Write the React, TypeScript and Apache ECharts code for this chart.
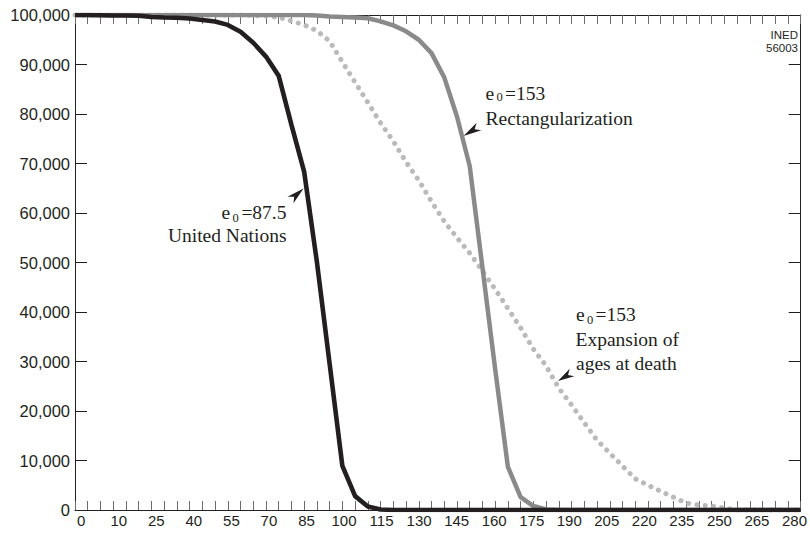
import React, { useEffect, useRef } from "react";
import * as echarts from "echarts";

const ages = [
  0, 1, 5, 10, 15, 20, 25, 30, 35, 40, 45, 50, 55, 60, 65, 70, 75, 80, 85, 90,
  95, 100, 105, 110, 115, 120, 125, 130, 135, 140, 145, 150, 155, 160, 165,
  170, 175, 180, 185, 190, 195, 200, 205, 210, 215, 220, 225, 230, 235, 240,
  245, 250, 255, 260, 265, 270, 275, 280,
];

const unitedNations = [
  100000, 100000, 99950, 99900, 99900, 99850, 99600, 99500, 99450, 99300,
  99000, 98700, 98000, 96600, 94400, 91600, 87700, 77800, 68300, 50100,
  29500, 8900, 2800, 700, 100, 0, 0, 0, 0, 0, 0, 0, 0, 0, 0, 0, 0, 0, 0, 0,
  0, 0, 0, 0, 0, 0, 0, 0, 0, 0, 0, 0, 0, 0, 0, 0, 0, 0,
];

const rectangularization = [
  100000, 100000, 100000, 100000, 100000, 100000, 100000, 100000, 100000,
  100000, 100000, 100000, 100000, 100000, 100000, 100000, 100000, 100000,
  100000, 99900, 99700, 99600, 99500, 99350, 98700, 97900, 96700, 95000,
  92300, 87400, 79500, 69500, 49000, 28500, 8700, 2600, 800, 100, 0, 0, 0, 0,
  0, 0, 0, 0, 0, 0, 0, 0, 0, 0, 0, 0, 0, 0, 0, 0,
];

const expansion = [
  100000, 100000, 100000, 100000, 100000, 100000, 100000, 100000, 100000,
  100000, 100000, 100000, 100000, 100000, 99900, 99800, 99500, 98800, 98000,
  96800, 94700, 90500, 86400, 82300, 78200, 74500, 70300, 66600, 62300, 58300,
  55000, 51900, 48300, 44600, 40700, 36800, 32500, 29100, 24600, 21200, 17600,
  14100, 11500, 8900, 6300, 5000, 3800, 2600, 1400, 1000, 800, 400, 0, 0, 0,
  0, 0, 0,
];

const serif = "'Liberation Serif', 'Times New Roman', serif";
const sans = "'Liberation Sans', Arial, sans-serif";
const ink = "#231f20";

function txt(x: number, y: number, text: string, size: number, align: string, family = serif) {
  return {
    type: "text",
    x,
    y,
    silent: true,
    style: {
      text,
      fontSize: size,
      fontFamily: family,
      fill: ink,
      textAlign: align,
      textVerticalAlign: "middle",
    },
  };
}

function arrow(tx: number, ty: number, bx: number, by: number, hw: number) {
  const dx = bx - tx;
  const dy = by - ty;
  const len = Math.sqrt(dx * dx + dy * dy);
  const px = (-dy / len) * hw;
  const py = (dx / len) * hw;
  return {
    type: "polygon",
    silent: true,
    shape: {
      points: [
        [tx, ty],
        [bx + px, by + py],
        [tx + dx * 0.72, ty + dy * 0.72],
        [bx - px, by - py],
      ],
    },
    style: { fill: ink },
  };
}

export default function App() {
  const ref = useRef<HTMLDivElement>(null);
  useEffect(() => {
    document.body.style.margin = "0";
    if (!ref.current) return;
    const chart = echarts.init(ref.current, undefined, { renderer: "svg" });
    const cats = ages.map(String);
    const tickAxis = {
      type: "category",
      data: cats,
      boundaryGap: false,
      axisLine: { show: true, lineStyle: { color: ink, width: 1 } },
      axisTick: {
        show: true,
        inside: true,
        length: 9,
        interval: 0,
        lineStyle: { color: "#6d6d6d", width: 1 },
      },
      axisLabel: { show: false },
      splitLine: { show: false },
    };
    const valueAxis = {
      type: "value",
      min: 0,
      max: 100000,
      interval: 10000,
      axisLine: { show: true, lineStyle: { color: ink, width: 1 } },
      axisTick: { show: true, inside: true, length: 12, lineStyle: { color: ink, width: 1 } },
      splitLine: { show: false },
    };
    chart.setOption({
      animation: false,
      backgroundColor: "#ffffff",
      grid: { left: 75, right: 9, top: 15, bottom: 30, containLabel: false },
      xAxis: [
        { ...tickAxis, position: "bottom" },
        {
          type: "category",
          data: cats,
          position: "bottom",
          boundaryGap: true,
          axisLine: { show: false },
          axisTick: { show: false },
          splitLine: { show: false },
          axisLabel: {
            show: true,
            interval: 2,
            margin: 3,
            fontSize: 15,
            fontFamily: sans,
            color: ink,
          },
        },
        { ...tickAxis, position: "top" },
      ],
      yAxis: [
        {
          ...valueAxis,
          position: "left",
          axisLabel: {
            show: true,
            margin: 5,
            fontSize: 16.5,
            fontFamily: sans,
            color: ink,
            formatter: (v: number) => v.toLocaleString("en-US"),
          },
        },
        { ...valueAxis, position: "right", axisLabel: { show: false } },
      ],
      series: [
        {
          name: "Expansion of ages at death",
          type: "line",
          xAxisIndex: 0,
          yAxisIndex: 0,
          data: expansion,
          symbol: "none",
          lineStyle: { color: "#bababa", width: 5, type: [0.1, 8.2], cap: "round" },
        },
        {
          name: "Rectangularization",
          type: "line",
          xAxisIndex: 0,
          yAxisIndex: 0,
          data: rectangularization,
          symbol: "none",
          lineStyle: { color: "#8a8a8a", width: 4.5 },
        },
        {
          name: "United Nations",
          type: "line",
          xAxisIndex: 0,
          yAxisIndex: 0,
          data: unitedNations,
          symbol: "none",
          lineStyle: { color: ink, width: 4.6 },
        },
      ],
      graphic: [
        // United Nations
        txt(221.5, 212.7, "e", 19.5, "left"),
        txt(232.5, 218.4, "0", 12.5, "left"),
        txt(286.5, 212.7, "=87.5", 19.5, "right"),
        txt(286.5, 235.6, "United Nations", 19.5, "right"),
        arrow(303.5, 188.5, 290.5, 200, 4.5),
        // Rectangularization
        txt(485.5, 93.4, "e", 19.5, "left"),
        txt(496.5, 97.0, "0", 12.5, "left"),
        txt(505, 93.4, "=153", 19.5, "left"),
        txt(485.5, 118.4, "Rectangularization", 19.5, "left"),
        arrow(463.5, 136, 479, 126.5, 4.5),
        // Expansion
        txt(576, 314.4, "e", 19.5, "left"),
        txt(587, 320.2, "0", 12.5, "left"),
        txt(595.5, 314.4, "=153", 19.5, "left"),
        txt(575.5, 339.4, "Expansion of", 19.5, "left"),
        txt(576, 363.4, "ages at death", 19.5, "left"),
        arrow(558, 381, 572, 372.5, 4.5),
        // source tag
        txt(798, 35.0, "INED", 11.5, "right", sans),
        txt(798, 47.5, "56003", 11.5, "right", sans),
      ],
    });
    return () => chart.dispose();
  }, []);
  return <div ref={ref} style={{ width: 810, height: 540 }} />;
}
